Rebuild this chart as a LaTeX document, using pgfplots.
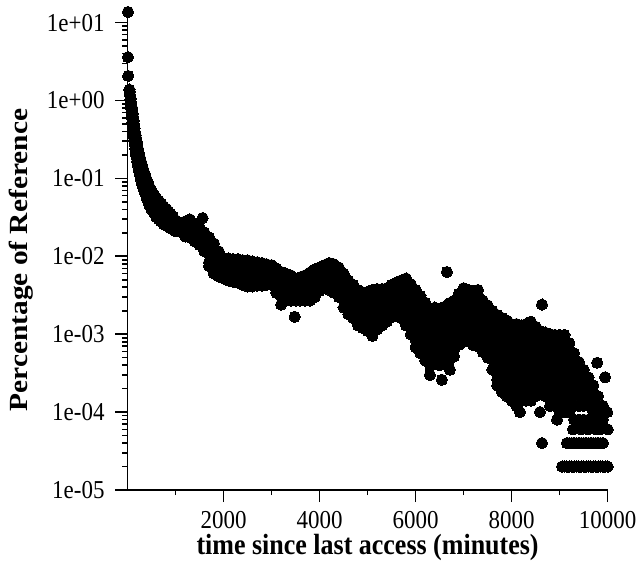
\documentclass[border=0pt]{standalone}
\usepackage{fontspec}
\setmainfont{Liberation Serif}
\usepackage{graphicx}
\usepackage{pgfplots}
\pgfplotsset{compat=1.18}
% the reference text is set a little narrow
\newcommand{\tl}[1]{\scalebox{0.89}[1]{#1}}

\begin{document}
\begin{tikzpicture}
\begin{axis}[
    scale only axis,
    width=240.1pt, height=239.4pt,
    ymode=log,
    xmin=0, xmax=10000,
    ymin=1e-5, ymax=14,
    axis x line*=bottom, axis y line*=left,
    axis line style={line width=0.8pt},
    tick style={line width=0.8pt, black},
    tick align=outside,
    major tick length=6pt, minor tick length=2.5pt,
    scaled x ticks=false,
    xtick={2000,4000,6000,8000,10000},
    xticklabels={\tl{2000},\tl{4000},\tl{6000},\tl{8000},\tl{10000}},
    minor xtick={1000,3000,5000,7000,9000},
    ytick={1e-5,1e-4,1e-3,1e-2,1e-1,1,10},
    yticklabels={\tl{1e-05},\tl{1e-04},\tl{1e-03},\tl{1e-02},\tl{1e-01},\tl{1e+00},\tl{1e+01}},
    minor ytick={2e-5,3e-5,4e-5,5e-5,6e-5,7e-5,8e-5,9e-5,
                 2e-4,3e-4,4e-4,5e-4,6e-4,7e-4,8e-4,9e-4,
                 2e-3,3e-3,4e-3,5e-3,6e-3,7e-3,8e-3,9e-3,
                 2e-2,3e-2,4e-2,5e-2,6e-2,7e-2,8e-2,9e-2,
                 0.2,0.3,0.4,0.5,0.6,0.7,0.8,0.9,
                 2,3,4,5,6,7,8,9},
    tick label style={font=\fontsize{12.9}{14}\selectfont},
    xticklabel style={inner sep=0pt, yshift=-4.6pt},
    yticklabel style={inner xsep=5.3pt},
    xlabel={\fontsize{14.6}{16}\selectfont\bfseries\tl{time since last access (minutes)}},
    ylabel={\fontsize{14.7}{16}\selectfont\bfseries\scalebox{1}[0.89]{Percentage of Reference}},
    xlabel style={at={(axis description cs:0.5,-0.1357)}, anchor=base},
    ylabel style={at={(axis description cs:-0.2073,0.480)}, anchor=base},
    clip=false,
]
\addplot[only marks, mark=*, mark size=2.8pt, black, mark options={fill=black, draw=black, line width=0pt}]
coordinates {
(10,13.7) (10,3.6) (15,2.07) (40,1.38)
(50,1.19) (50,1.3)
(60,1.02) (60,1.15) (60,0.9)
(70,0.915) (70,1.05) (70,0.8)
(80,0.81) (80,0.93) (80,0.71)
(90,0.70) (90,0.82) (90,0.6)
(100,0.62) (100,0.75) (100,0.52)
(110,0.554) (110,0.68) (110,0.46)
(120,0.49) (120,0.61) (120,0.4)
(130,0.437) (130,0.55) (130,0.35)
(140,0.388) (140,0.49) (140,0.31)
(150,0.345) (150,0.44) (150,0.27)
(160,0.307) (160,0.39) (160,0.24)
(170,0.28) (170,0.36) (170,0.22)
(180,0.257) (180,0.33) (180,0.2)
(190,0.235) (190,0.3) (190,0.185)
(200,0.215) (200,0.28) (200,0.165)
(220,0.185) (220,0.24) (220,0.145)
(240,0.16) (240,0.21) (240,0.125)
(260,0.142) (260,0.185) (260,0.11)
(280,0.126) (280,0.165) (280,0.097)
(300,0.112) (300,0.15) (300,0.086)
(330,0.097) (330,0.13) (330,0.075)
(360,0.086) (360,0.115) (360,0.066)
(400,0.072) (400,0.097) (400,0.055)
(450,0.06) (450,0.08) (450,0.046)
(500,0.052) (500,0.07) (500,0.04)
(550,0.046) (550,0.062) (550,0.036)
(600,0.042) (600,0.056) (600,0.032)
(650,0.039) (650,0.052) (650,0.03)
(700,0.0366) (700,0.048) (700,0.028)
(750,0.0335) (750,0.044) (750,0.026)
(800,0.0316) (800,0.041) (800,0.025)
(850,0.0298) (850,0.038) (850,0.024)
(900,0.0281) (900,0.035) (900,0.023)
(950,0.0272) (950,0.032) (950,0.022)
(1000,0.0257) (1000,0.029) (1000,0.021)
(1100,0.0264) (1100,0.0235) (1100,0.0209)
(1200,0.028) (1200,0.0235) (1200,0.018)
(1300,0.0298) (1300,0.0235) (1300,0.0175)
(1400,0.0264) (1400,0.021) (1400,0.0155)
(1500,0.0235) (1500,0.019) (1500,0.014)
(1564,0.031)
(1600,0.0203) (1600,0.0155) (1600,0.0116)
(1700,0.0175) (1700,0.0138) (1700,0.0106) (1700,0.0084) (1700,0.0075)
(1800,0.0146) (1800,0.0116) (1800,0.0089) (1800,0.0070) (1800,0.0060)
(1900,0.0116) (1900,0.0089) (1900,0.0070) (1900,0.0055)
(2000,0.0094) (2000,0.0074) (2000,0.0058) (2000,0.0052)
(2100,0.0094) (2100,0.0074) (2100,0.0058) (2100,0.0049)
(2200,0.0092) (2200,0.0072) (2200,0.0057) (2200,0.0047)
(2300,0.0092) (2300,0.0072) (2300,0.0056) (2300,0.0046)
(2400,0.0089) (2400,0.0070) (2400,0.0055) (2400,0.0043)
(2500,0.0089) (2500,0.0070) (2500,0.0055) (2500,0.0046) (2500,0.0041)
(2600,0.0086) (2600,0.0068) (2600,0.0053) (2600,0.0041)
(2700,0.0084) (2700,0.0066) (2700,0.0052) (2700,0.0042)
(2800,0.0082) (2800,0.0064) (2800,0.0050) (2800,0.0042)
(2900,0.0079) (2900,0.0062) (2900,0.0049) (2900,0.0043)
(3000,0.0077) (3000,0.0060) (3000,0.0043)
(3100,0.0070) (3100,0.0055) (3100,0.0043) (3100,0.0034)
(3200,0.0063) (3200,0.0050) (3200,0.0039) (3200,0.0031) (3200,0.0024)
(3300,0.0060) (3300,0.0047) (3300,0.0037) (3300,0.0027)
(3400,0.0057) (3400,0.0045) (3400,0.0035) (3400,0.0027)
(3482,0.00167)
(3500,0.0052) (3500,0.0041) (3500,0.0032) (3500,0.0027)
(3600,0.0054) (3600,0.0042) (3600,0.0033) (3600,0.0027)
(3700,0.0057) (3700,0.0045) (3700,0.0035) (3700,0.0027)
(3800,0.0062) (3800,0.0049) (3800,0.0038) (3800,0.0027)
(3900,0.0068) (3900,0.0053) (3900,0.0041) (3900,0.0030)
(4000,0.0072) (4000,0.0057) (4000,0.0044) (4000,0.0036)
(4100,0.0077) (4100,0.0060) (4100,0.0047) (4100,0.0039)
(4200,0.0082) (4200,0.0064) (4200,0.0050) (4200,0.0039) (4200,0.0037)
(4300,0.0079) (4300,0.0062) (4300,0.0049) (4300,0.0038) (4300,0.0034)
(4400,0.0072) (4400,0.0057) (4400,0.0044) (4400,0.0035) (4400,0.0030)
(4500,0.0060) (4500,0.0047) (4500,0.0037) (4500,0.0029) (4500,0.0022)
(4600,0.0049) (4600,0.0039) (4600,0.0030) (4600,0.0024) (4600,0.0018)
(4700,0.0043) (4700,0.0034) (4700,0.0027) (4700,0.0021) (4700,0.0016)
(4800,0.0037) (4800,0.0029) (4800,0.0023) (4800,0.0018) (4800,0.0013)
(4900,0.00345) (4900,0.0027) (4900,0.00215) (4900,0.0017) (4900,0.0012)
(5000,0.0035) (5000,0.0028) (5000,0.0022) (5000,0.0017) (5000,0.00135) (5000,0.0011)
(5100,0.0037) (5100,0.0029) (5100,0.0023) (5100,0.0018) (5100,0.0014) (5100,0.0011) (5100,0.00095)
(5200,0.0038) (5200,0.0030) (5200,0.0024) (5200,0.00185) (5200,0.00145) (5200,0.00115)
(5300,0.0038) (5300,0.0030) (5300,0.0024) (5300,0.00185) (5300,0.0013)
(5400,0.0039) (5400,0.0031) (5400,0.0024) (5400,0.0019) (5400,0.00145)
(5500,0.0043) (5500,0.0034) (5500,0.0027) (5500,0.0021) (5500,0.00165)
(5600,0.0046) (5600,0.0036) (5600,0.0028) (5600,0.0022) (5600,0.0019)
(5700,0.0049) (5700,0.0039) (5700,0.0030) (5700,0.0024) (5700,0.0019) (5700,0.0016)
(5800,0.0052) (5800,0.0041) (5800,0.0032) (5800,0.0025) (5800,0.0020) (5800,0.0016) (5800,0.0013)
(5900,0.0044) (5900,0.0035) (5900,0.0027) (5900,0.0021) (5900,0.0017) (5900,0.0013) (5900,0.0010)
(6000,0.0037) (6000,0.0029) (6000,0.0023) (6000,0.0018) (6000,0.0014) (6000,0.0011) (6000,0.00085) (6000,0.00068)
(6100,0.0031) (6100,0.0024) (6100,0.0019) (6100,0.0015) (6100,0.0012) (6100,0.00094) (6100,0.00074) (6100,0.00057)
(6200,0.00255) (6200,0.0020) (6200,0.0016) (6200,0.00125) (6200,0.00097) (6200,0.00076) (6200,0.00060) (6200,0.00046)
(6297,0.00030)
(6300,0.00215) (6300,0.0017) (6300,0.00135) (6300,0.00105) (6300,0.00082) (6300,0.00064) (6300,0.00050) (6300,0.00040)
(6400,0.0022) (6400,0.00175) (6400,0.0014) (6400,0.0011) (6400,0.00085) (6400,0.00066) (6400,0.00052) (6400,0.00041)
(6500,0.0021) (6500,0.00165) (6500,0.0013) (6500,0.0010) (6500,0.00080) (6500,0.00062) (6500,0.00049) (6500,0.00040)
(6547,0.00026)
(6600,0.00225) (6600,0.00175) (6600,0.0014) (6600,0.0011) (6600,0.00085) (6600,0.00066) (6600,0.00052) (6600,0.00042)
(6651,0.0063)
(6700,0.0025) (6700,0.00195) (6700,0.00155) (6700,0.0012) (6700,0.00094) (6700,0.00074) (6700,0.00058) (6700,0.00046)
(6714,0.00035)
(6800,0.0027) (6800,0.0021) (6800,0.00165) (6800,0.0013) (6800,0.0010) (6800,0.00079) (6800,0.00062) (6800,0.00052)
(6900,0.0033) (6900,0.0026) (6900,0.0020) (6900,0.0016) (6900,0.00125) (6900,0.00097) (6900,0.00073)
(7000,0.0039) (7000,0.0030) (7000,0.0024) (7000,0.00185) (7000,0.00145) (7000,0.00115) (7000,0.00090) (7000,0.00080)
(7100,0.0037) (7100,0.0029) (7100,0.0023) (7100,0.0018) (7100,0.0014) (7100,0.0011) (7100,0.00088)
(7200,0.00345) (7200,0.0027) (7200,0.00215) (7200,0.0017) (7200,0.0013) (7200,0.00105) (7200,0.00082) (7200,0.00072)
(7298,0.0037)
(7300,0.0032) (7300,0.0025) (7300,0.00195) (7300,0.00155) (7300,0.0012) (7300,0.00095) (7300,0.00070)
(7400,0.0027) (7400,0.0021) (7400,0.0017) (7400,0.0013) (7400,0.0010) (7400,0.00080) (7400,0.00059)
(7500,0.00235) (7500,0.00185) (7500,0.00145) (7500,0.00115) (7500,0.00090) (7500,0.00070) (7500,0.00050)
(7600,0.0020) (7600,0.0016) (7600,0.00125) (7600,0.00098) (7600,0.00077) (7600,0.00060) (7600,0.00047) (7600,0.00035)
(7700,0.00177) (7700,0.0014) (7700,0.0011) (7700,0.00085) (7700,0.00067) (7700,0.00052) (7700,0.00041) (7700,0.00032) (7700,0.00026) (7700,0.00022)
(7800,0.00162) (7800,0.00127) (7800,0.0010) (7800,0.00078) (7800,0.00062) (7800,0.00048) (7800,0.00038) (7800,0.00030) (7800,0.00024) (7800,0.00018)
(7900,0.0015) (7900,0.00117) (7900,0.00092) (7900,0.00072) (7900,0.00057) (7900,0.00045) (7900,0.00035) (7900,0.00028) (7900,0.00022) (7900,0.00016)
(8000,0.00135) (8000,0.00105) (8000,0.00084) (8000,0.00066) (8000,0.00052) (8000,0.00041) (8000,0.00032) (8000,0.00026) (8000,0.00020) (8000,0.00014)
(8100,0.00135) (8100,0.00105) (8100,0.00084) (8100,0.00066) (8100,0.00052) (8100,0.00041) (8100,0.00032) (8100,0.00026) (8100,0.00018) (8100,0.00012)
(8173,0.0001)
(8200,0.0013) (8200,0.00102) (8200,0.0008) (8200,0.00063) (8200,0.0005) (8200,0.00039) (8200,0.00031) (8200,0.00024) (8200,0.00018) (8200,0.00014)
(8300,0.00135) (8300,0.00105) (8300,0.00083) (8300,0.00065) (8300,0.00051) (8300,0.0004) (8300,0.00031) (8300,0.00024) (8300,0.00018) (8300,0.00014)
(8400,0.00145) (8400,0.0011) (8400,0.00088) (8400,0.00069) (8400,0.00054) (8400,0.00042) (8400,0.00033) (8400,0.00026) (8400,0.0002) (8400,0.00014)
(8500,0.00125) (8500,0.00097) (8500,0.00076) (8500,0.0006) (8500,0.00047) (8500,0.00037) (8500,0.00029) (8500,0.00022) (8500,0.00016)
(8590,0.0001)
(8600,0.0011) (8600,0.00087) (8600,0.00068) (8600,0.00054) (8600,0.00042) (8600,0.00033) (8600,0.00026) (8600,0.0002)
(8632,0.0024) (8632,0.00004)
(8700,0.00105) (8700,0.00083) (8700,0.00065) (8700,0.00051) (8700,0.0004) (8700,0.00031) (8700,0.00024) (8700,0.00018) (8700,0.00016)
(8800,0.001) (8800,0.00079) (8800,0.00062) (8800,0.00049) (8800,0.00038) (8800,0.0003) (8800,0.00024) (8800,0.00018) (8800,0.00014) (8800,0.00012)
(8900,0.00098) (8900,0.00077) (8900,0.0006) (8900,0.00047) (8900,0.00037) (8900,0.00029) (8900,0.00022) (8900,0.00018) (8900,0.00014) (8900,0.00012)
(8945,0.00008)
(9000,0.00098) (9000,0.00077) (9000,0.0006) (9000,0.00047) (9000,0.00037) (9000,0.00029) (9000,0.00022) (9000,0.00018) (9000,0.00014) (9000,0.0001)
(9100,0.00098) (9100,0.00077) (9100,0.0006) (9100,0.00047) (9100,0.00037) (9100,0.00029) (9100,0.00022) (9100,0.00016) (9100,0.00012) (9100,0.0001)
(9200,0.00077) (9200,0.0006) (9200,0.00047) (9200,0.00037) (9200,0.00029) (9200,0.00022) (9200,0.00016) (9200,0.00012) (9200,0.0001)
(9278,0.00006)
(9300,0.00057) (9300,0.00045) (9300,0.00035) (9300,0.00028) (9300,0.00022) (9300,0.00016) (9300,0.00012) (9300,0.00008)
(9400,0.00044) (9400,0.00034) (9400,0.00028) (9400,0.00022) (9400,0.00016) (9400,0.00012) (9400,0.00008)
(9450,0.00006)
(9500,0.00035) (9500,0.00028) (9500,0.00022) (9500,0.00016) (9500,0.00012) (9500,0.00008)
(9590,0.00006)
(9600,0.00028) (9600,0.00022) (9600,0.00016) (9600,0.00012) (9600,0.00008)
(9700,0.00022) (9700,0.00018) (9700,0.00014) (9700,0.0001) (9700,0.00008)
(9750,0.00006) (9780,0.00043)
(9800,0.00016) (9800,0.00012) (9800,0.0001) (9800,0.00008)
(9850,0.00006)
(9900,0.00012) (9900,0.0001) (9900,0.00008)
(9945,0.00028) (9990,0.0001) (10000,0.00006)
(9150,0.00004) (9200,0.00004) (9250,0.00004) (9300,0.00004) (9350,0.00004) (9400,0.00004)
(9450,0.00004) (9500,0.00004) (9550,0.00004) (9600,0.00004) (9650,0.00004) (9700,0.00004)
(9750,0.00004) (9800,0.00004) (9850,0.00004) (9900,0.00004)
(9050,0.00002) (9100,0.00002) (9150,0.00002) (9200,0.00002) (9250,0.00002) (9300,0.00002)
(9350,0.00002) (9400,0.00002) (9450,0.00002) (9500,0.00002) (9550,0.00002) (9600,0.00002)
(9650,0.00002) (9700,0.00002) (9750,0.00002) (9800,0.00002) (9850,0.00002) (9900,0.00002)
(9950,0.00002) (10000,0.00002)
};
\end{axis}
\pgfresetboundingbox
\path[use as bounding box] (-63.75pt,-39pt) rectangle (255.75pt,245pt);
\end{tikzpicture}
\end{document}
